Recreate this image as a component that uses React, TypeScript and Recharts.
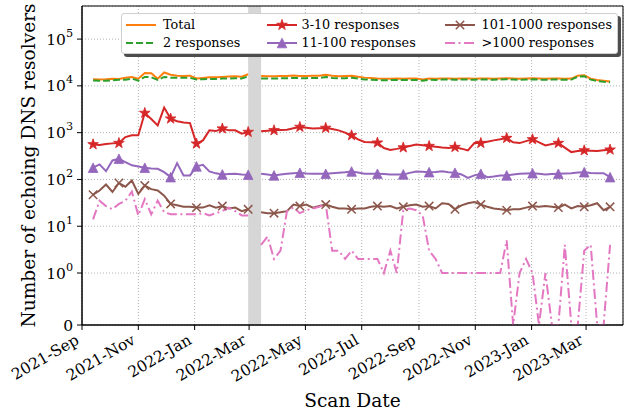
import React from "react";
import { CartesianGrid, Legend, Line, LineChart, ReferenceArea, XAxis, YAxis } from "recharts";

// weekly scans; 2022-03-07 is missing (gray band)
const scanDates = [
  "2021-09-13", "2021-09-20", "2021-09-27", "2021-10-04", "2021-10-11", "2021-10-18", "2021-10-25", "2021-11-01",
  "2021-11-08", "2021-11-15", "2021-11-22", "2021-11-29", "2021-12-06", "2021-12-13", "2021-12-20", "2021-12-27",
  "2022-01-03", "2022-01-10", "2022-01-17", "2022-01-24", "2022-01-31", "2022-02-07", "2022-02-14", "2022-02-21",
  "2022-02-28", "2022-03-07", "2022-03-14", "2022-03-21", "2022-03-28", "2022-04-04", "2022-04-11", "2022-04-18",
  "2022-04-25", "2022-05-02", "2022-05-09", "2022-05-16", "2022-05-23", "2022-05-30", "2022-06-06", "2022-06-13",
  "2022-06-20", "2022-06-27", "2022-07-04", "2022-07-11", "2022-07-18", "2022-07-25", "2022-08-01", "2022-08-08",
  "2022-08-15", "2022-08-22", "2022-08-29", "2022-09-05", "2022-09-12", "2022-09-19", "2022-09-26", "2022-10-03",
  "2022-10-10", "2022-10-17", "2022-10-24", "2022-10-31", "2022-11-07", "2022-11-14", "2022-11-21", "2022-11-28",
  "2022-12-05", "2022-12-12", "2022-12-19", "2022-12-26", "2023-01-02", "2023-01-09", "2023-01-16", "2023-01-23",
  "2023-01-30", "2023-02-06", "2023-02-13", "2023-02-20", "2023-02-27", "2023-03-06", "2023-03-13", "2023-03-20",
  "2023-03-27"
];

const total = [
  13870, 13650, 13870, 14200, 14100, 14900, 15500, 14200, 18900, 18600,
  14200, 19300, 17300, 16500, 16300, 16500, 14350, 14800, 15300, 15300,
  15500, 15800, 16100, 15700, 17700, null, 16300, 16000, 16100, 16300,
  16300, 16600, 16300, 16300, 16500, 16500, 17300, 16500, 16100, 16300,
  16500, 15700, 15000, 14700, 14350, 14200, 14200, 14350, 14200, 14350,
  14350, 13650, 14350, 14200, 14350, 14400, 14200, 14350, 14300, 14200,
  14400, 14350, 14200, 14400, 14500, 14350, 14200, 14300, 14500, 14300,
  14200, 14300, 14300, 14200, 14300, 16500, 16900, 14200, 13300, 12800,
  12400
];

const resp2 = [
  13000, 12800, 12800, 13200, 13500, 13500, 14350, 12900, 15500, 15300,
  13400, 15500, 15000, 14900, 14900, 14900, 13650, 13870, 14100, 14100,
  14350, 14350, 14600, 14350, 15900, null, 14350, 14300, 14350, 14500,
  14600, 14800, 14600, 14600, 14800, 14800, 15500, 14800, 14500, 14600,
  14900, 14300, 13700, 13500, 13300, 13200, 13300, 13400, 13300, 13400,
  13400, 12900, 13500, 13400, 13600, 13700, 13500, 13600, 13600, 13500,
  13700, 13600, 13500, 13700, 13800, 13700, 13500, 13600, 13800, 13600,
  13500, 13600, 13600, 13500, 13600, 15700, 16100, 13600, 12700, 12200,
  11900
];

const resp3to10 = [
  561, 547, 575, 590, 598, 805, 875, 875, 2630, 1950,
  1430, 3430, 1990, 1750, 1640, 1600, 580, 684, 1120, 1080,
  1220, 1120, 1120, 950, 1030, null, 1070, 1100, 1120, 1140,
  1160, 1240, 1320, 1270, 1220, 1240, 1260, 1200, 1120, 1000,
  875, 720, 630, 620, 610, 470, 425, 450, 480, 520,
  560, 540, 516, 500, 480, 470, 490, 455, 417, 598,
  598, 640, 684, 720, 765, 620, 598, 660, 718, 620,
  534, 570, 598, 480, 384, 405, 417, 410, 405, 420,
  432
];

const resp11to100 = [
  178, 210, 150, 255, 277, 235, 200, 190, 178, 172,
  169, 143, 112, 223, 122, 122, 190, 206, 148, 135,
  128, 130, 132, 128, 126, null, 132, 128, 122, 128,
  132, 136, 139, 134, 132, 132, 132, 136, 139, 142,
  148, 140, 132, 132, 132, 130, 128, 128, 128, 138,
  148, 146, 143, 145, 150, 142, 139, 128, 108, 122,
  132, 112, 115, 122, 122, 128, 132, 134, 136, 132,
  128, 130, 132, 134, 136, 140, 143, 138, 136, 136,
  112
];

const resp101to1000 = [
  47, 58, 78, 54, 84, 70, 95, 49, 74, 62,
  58, 45, 30, 28, 26, 26, 25, 25, 28, 25,
  27, 24, 25, 21, 23, null, 20, 19, 19, 20,
  21, 29, 27, 29, 25, 27, 29, 26, 24, 24,
  23, 24, 24, 26, 27, 26, 27, 24, 26, 28,
  29, 26, 27, 24, 31, 30, 23, 28, 31, 33,
  29, 26, 24, 23, 22, 23, 23, 25, 27, 26,
  27, 26, 25, 29, 24, 27, 26, 28, 31, 22,
  26
];

const respOver1000 = [
  14, 35, 27, 23, 30, 35, 55, 17, 38, 18,
  35, 20, 18, 18, 18, 18, 18, 19, 17, 19,
  21, 25, 21, 17, 17, null, 4, 6, 2, 3,
  21, 25, 19, 22, 24, 26, 30, 3, 3, 2,
  3, 2, 2, 2, 2, 1, 3, 1, 22, 24,
  22, 17, 3, 2, 1, 1, 1, 1, 1, 1,
  1, 1, 1, 1, 5, 0, 1, 2, 1, 0,
  1, 0, 0, 4, 0, 0, 3, 4, 0, 0,
  4
];

const xTickDates = [
  "2021-09-01", "2021-11-01", "2022-01-01", "2022-03-01", "2022-05-01",
  "2022-07-01", "2022-09-01", "2022-11-01", "2023-01-01", "2023-03-01"
];
const xTickLabels = [
  "2021-Sep", "2021-Nov", "2022-Jan", "2022-Mar", "2022-May",
  "2022-Jul", "2022-Sep", "2022-Nov", "2023-Jan", "2023-Mar"
];
const yTickValues = [0, 1, 10, 100, 1000, 10000, 100000];
const yTickLabels = ["0", "10^0", "10^1", "10^2", "10^3", "10^4", "10^5"];

const FONT = "'DejaVu Serif', serif";

// matplotlib symlog, linthresh=1, linscale=1
const LIN = 1 / (1 - 1 / 10);
const symlog = (v: number | null) => (v == null ? null : v <= 1 ? v * LIN : LIN + Math.log10(v));
const toMs = (s: string) => Date.parse(s + "T00:00:00Z");

const rows = scanDates.map((d, i) => ({
  t: toMs(d),
  total: symlog(total[i]),
  resp2: symlog(resp2[i]),
  resp3to10: symlog(resp3to10[i]),
  resp11to100: symlog(resp11to100[i]),
  resp101to1000: symlog(resp101to1000[i]),
  respOver1000: symlog(respOver1000[i])
}));

const yTicks = yTickValues.map((v) => symlog(v) as number);
const yMax = LIN + 5.707;
const xMin = toMs("2021-09-01");
const xMax = toMs("2023-04-10");

type Shape = "star" | "tri" | "x" | null;

const series: { key: string; name: string; color: string; dash?: string; shape: Shape }[] = [
  { key: "total", name: "Total", color: "#ff7f0e", shape: null },
  { key: "resp2", name: "2 responses", color: "#2ca02c", dash: "7 3", shape: null },
  { key: "resp3to10", name: "3-10 responses", color: "#d62728", shape: "star" },
  { key: "resp11to100", name: "11-100 responses", color: "#9467bd", shape: "tri" },
  { key: "resp101to1000", name: "101-1000 responses", color: "#8c564b", shape: "x" },
  { key: "respOver1000", name: ">1000 responses", color: "#e377c2", dash: "10 3.5 2 3.5", shape: null }
];

const Marker = ({ shape, color, cx, cy }: { shape: Shape; color: string; cx: number; cy: number }) => {
  if (shape === "star") {
    const pts: string[] = [];
    for (let k = 0; k < 10; k++) {
      const a = ((-90 + k * 36) * Math.PI) / 180;
      const r = k % 2 === 0 ? 5.6 : 2.2;
      pts.push(`${cx + r * Math.cos(a)},${cy + r * Math.sin(a)}`);
    }
    return <polygon points={pts.join(" ")} fill={color} stroke={color} strokeWidth={0.8} />;
  }
  if (shape === "tri") {
    const h = 4.8;
    return (
      <polygon
        points={`${cx},${cy - h} ${cx - h},${cy + h} ${cx + h},${cy + h}`}
        fill={color}
        stroke={color}
        strokeWidth={0.8}
      />
    );
  }
  if (shape === "x") {
    const h = 4.2;
    return (
      <g stroke={color} strokeWidth={1.5}>
        <line x1={cx - h} y1={cy - h} x2={cx + h} y2={cy + h} />
        <line x1={cx - h} y1={cy + h} x2={cx + h} y2={cy - h} />
      </g>
    );
  }
  return null;
};

const makeDot = (shape: Shape, color: string) => (props: any) => {
  const { cx, cy, index, value } = props;
  const key = `dot-${color}-${index}`;
  if (!shape || index % 4 !== 0 || value == null || cx == null || cy == null) return <g key={key} />;
  return (
    <g key={key}>
      <Marker shape={shape} color={color} cx={cx} cy={cy} />
    </g>
  );
};

const XTick = (props: any) => {
  const { x, y, payload } = props;
  const i = xTickDates.findIndex((d) => toMs(d) === payload.value);
  const px = x - 2;
  const py = y + 13;
  return (
    <text
      x={px}
      y={py}
      textAnchor="end"
      transform={`rotate(-30 ${px} ${py})`}
      fontFamily={FONT}
      fontSize={15.5}
      fill="#000"
    >
      {xTickLabels[i]}
    </text>
  );
};

const YTick = (props: any) => {
  const { x, y, payload } = props;
  const i = yTicks.findIndex((t) => Math.abs(t - payload.value) < 1e-6);
  const [base, exp] = (yTickLabels[i] || "").split("^");
  return (
    <text x={x} y={y} dy={5.6} textAnchor="end" fontFamily={FONT} fontSize={15.5} fill="#000">
      <tspan>{base}</tspan>
      {exp != null ? (
        <tspan dy={-8} fontSize={11.2}>
          {exp}
        </tspan>
      ) : null}
    </text>
  );
};

const LegendHandle = ({ color, dash, shape }: { color: string; dash?: string; shape: Shape }) => (
  <svg width={30} height={14} style={{ position: "absolute", left: 0, top: 0 }}>
    <line x1={0} y1={7} x2={30} y2={7} stroke={color} strokeWidth={2} strokeDasharray={dash} />
    {shape ? <Marker shape={shape} color={color} cx={15} cy={7} /> : null}
  </svg>
);

const legendCols = [3.5, 144.5, 322.5];
const legendTextCols = [41, 179.5, 359.5];
const legendRows = [3.5, 21.8];

const LegendBox = () => (
  <div
    style={{
      position: "absolute",
      left: 121,
      top: 13,
      width: 495,
      height: 39,
      background: "#fff",
      border: "1px solid #cfcfcf",
      borderRadius: 3,
      boxShadow: "3px 3px 0 #4d4d4d",
      fontFamily: FONT,
      fontSize: 12.8,
      color: "#000"
    }}
  >
    {series.map((s, i) => {
      const col = Math.floor(i / 2);
      const row = i % 2;
      return (
        <div key={s.key}>
          <div style={{ position: "absolute", left: legendCols[col], top: legendRows[row], width: 30, height: 14 }}>
            <LegendHandle color={s.color} dash={s.dash} shape={s.shape} />
          </div>
          <div
            style={{
              position: "absolute",
              left: legendTextCols[col],
              top: legendRows[row] - 1,
              lineHeight: "16px",
              whiteSpace: "nowrap"
            }}
          >
            {s.name}
          </div>
        </div>
      );
    })}
  </div>
);

const YLabel = () => (
  <text
    x={35}
    y={165.5}
    transform="rotate(-90 35 165.5)"
    textAnchor="middle"
    fontFamily={FONT}
    fontSize={18.6}
    fill="#000"
  >
    Number of echoing DNS resolvers
  </text>
);

const XLabel = () => (
  <text x={352.5} y={407} textAnchor="middle" fontFamily={FONT} fontSize={18.6} fill="#000">
    Scan Date
  </text>
);

export default function App() {
  return (
    <div style={{ position: "absolute", left: 0, top: 0, width: 631, height: 413, background: "#fff" }}>
      <LineChart width={631} height={413} data={rows} margin={{ top: 6, right: 8, bottom: 0, left: 0 }}>
        <ReferenceArea x1={toMs("2022-02-28")} x2={toMs("2022-03-14")} y1={0} y2={yMax} fill="#d6d6d6" fillOpacity={1} stroke="none" />
        <CartesianGrid stroke="#b0b0b0" strokeDasharray="1 2" />
        <XAxis
          dataKey="t"
          type="number"
          domain={[xMin, xMax]}
          allowDataOverflow
          ticks={xTickDates.map(toMs)}
          interval={0}
          tick={<XTick />}
          tickSize={5}
          tickMargin={0}
          height={88}
          axisLine={{ stroke: "#000" }}
          tickLine={{ stroke: "#000" }}
          label={<XLabel />}
        />
        <YAxis
          type="number"
          domain={[0, yMax]}
          allowDataOverflow
          ticks={yTicks}
          interval={0}
          tick={<YTick />}
          tickSize={5}
          tickMargin={4}
          width={82}
          axisLine={{ stroke: "#000" }}
          tickLine={{ stroke: "#000" }}
          label={<YLabel />}
        />
        {series.map((s) => (
          <Line
            key={s.key}
            dataKey={s.key}
            name={s.name}
            type="linear"
            stroke={s.color}
            strokeWidth={2}
            strokeDasharray={s.dash}
            dot={makeDot(s.shape, s.color)}
            activeDot={false}
            connectNulls={false}
            isAnimationActive={false}
          />
        ))}
        <ReferenceArea x1={xMin} x2={xMax} y1={0} y2={yMax} fill="none" stroke="#000" strokeWidth={1} />
        <Legend layout="vertical" align="center" verticalAlign="middle" wrapperStyle={{ left: 0, top: 0, width: 0, height: 0 }} content={() => <LegendBox />} />
      </LineChart>
    </div>
  );
}
